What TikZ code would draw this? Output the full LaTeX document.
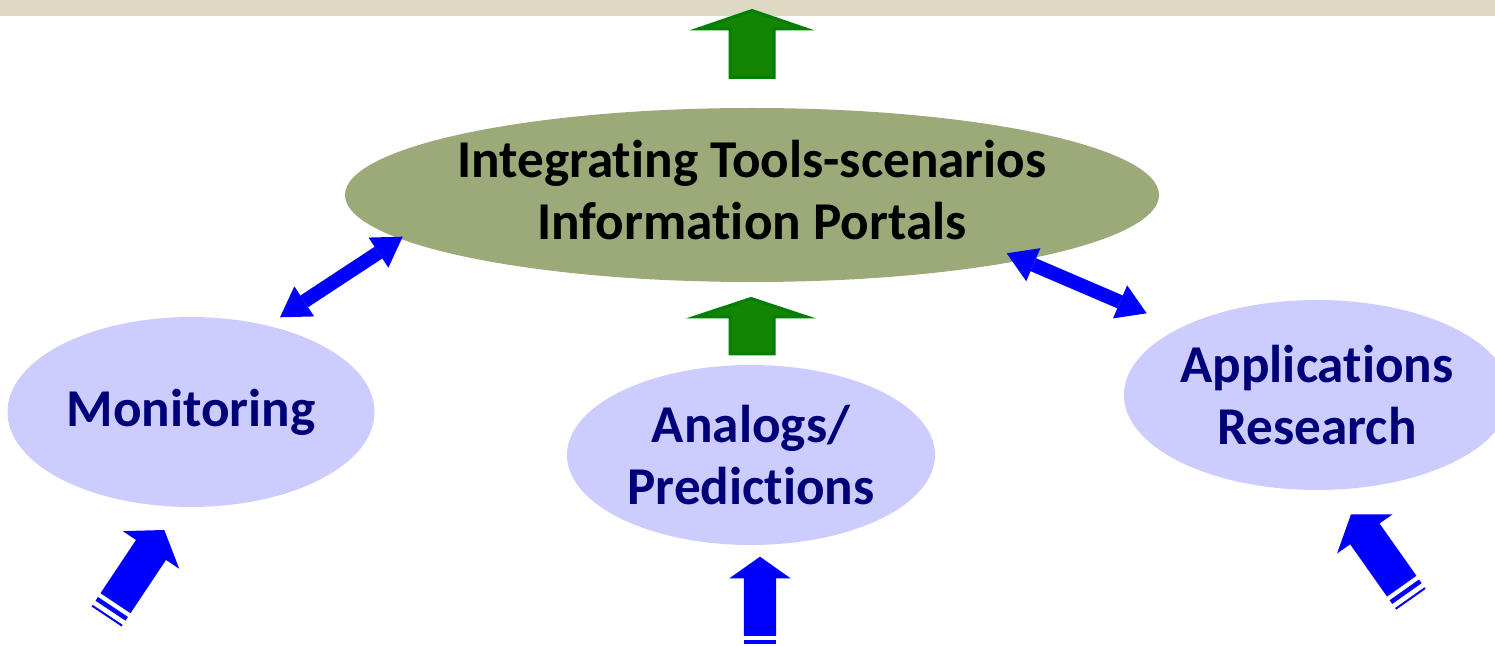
\documentclass[tikz,border=0pt]{standalone}
\usepackage{fontspec}
\setmainfont[RawFeature={-liga;-dlig;-calt}]{Carlito}
\usetikzlibrary{shapes.geometric,arrows.meta}

\definecolor{bandbeige}{HTML}{DDD9C3}
\definecolor{olivefill}{HTML}{9BAA78}
\definecolor{lavender}{HTML}{CCCCFF}
\definecolor{navytext}{HTML}{000078}
\definecolor{arrowgreen}{HTML}{008000}
\definecolor{arrowgreenfill}{HTML}{148405}
\definecolor{pureblue}{HTML}{0000FF}

\tikzset{
  bigtext/.style={font=\fontsize{26.6pt}{31pt}\selectfont\bfseries, align=center, inner sep=0pt},
  bubble/.style={ellipse, fill=lavender, draw=none, text=navytext, bigtext},
  hub/.style={ellipse, fill=olivefill, draw=none},
  uparrow/.style={fill=arrowgreenfill, draw=arrowgreen, line width=1.5pt, line join=miter},
  twoway/.style={draw=pureblue, line width=7pt,
    {Triangle[width=18pt,length=14.5pt,line width=0pt]}-{Triangle[width=18pt,length=14.5pt,line width=0pt]}},
}

% striped block arrow: tip x, tip y, direction angle, scale
\newcommand\stripedarrow[4]{%
  \begin{scope}[shift={(#1,#2)},rotate=#3,scale=#4]
    \fill[pureblue] (0,0) -- (-24,34) -- (-24,18) -- (-88,18) -- (-88,-18)
      -- (-24,-18) -- (-24,-34) -- cycle;
    \fill[pureblue] (-92.5,18) rectangle (-97,-18);
    \fill[pureblue] (-102,18) rectangle (-104,-18);
  \end{scope}}

\begin{document}
\begin{tikzpicture}[x=0.5pt,y=-0.5pt]
  \useasboundingbox (0,0) rectangle (1495,646);

  % header band
  \fill[bandbeige] (0,0) rectangle (1495,16.5);

  % central hub and its caption
  \node[hub, minimum width=407pt, minimum height=87pt] (hub) at (752,195) {};
  \node[bigtext, text=black, yshift=2.5pt] (hubtext) at (hub.center)
    {Integrating Tools-scenarios\\Information Portals};

  % outer ellipses
  \node[bubble, minimum width=183.5pt, minimum height=95pt] (mon) at (191,412)
    {Monitoring};
  \node[bubble, minimum width=184pt, minimum height=90pt] (ana) at (751,455)
    {Analogs/\\Predictions};
  \node[bubble, minimum width=189pt, minimum height=95pt] (app) at (1317,395)
    {Applications\\Research};

  % green block arrows
  \draw[uparrow] (752,10.5) -- (806,29) -- (774,29) -- (774,77.5) -- (730,77.5)
    -- (730,29) -- (698,29) -- cycle;
  \draw[uparrow] (751,298.5) -- (807,317) -- (774,317) -- (774,354) -- (730,354)
    -- (730,317) -- (695,317) -- cycle;

  % two-way links
  \coordinate (monEnd) at (280,317.3);
  \coordinate (hubW) at (402.7,236.7);
  \coordinate (hubE) at (1006.7,253.3);
  \coordinate (appEnd) at (1146.7,313.3);
  \draw[twoway] (monEnd) -- (hubW);
  \draw[twoway] (hubE) -- (appEnd);

  % striped input arrows
  \stripedarrow{164.3}{530}{56.3}{1}
  \stripedarrow{760}{556.7}{90}{0.9}
  \stripedarrow{1351}{514.3}{125.2}{1}
\end{tikzpicture}
\end{document}
